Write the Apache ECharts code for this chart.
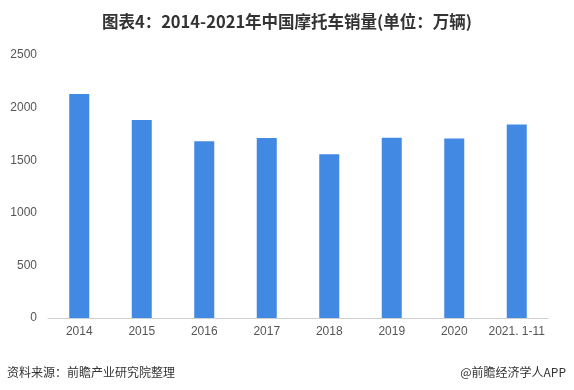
<!DOCTYPE html>
<html><head><meta charset="utf-8">
<script src="https://cdn.jsdelivr.net/npm/echarts@6/dist/echarts.min.js"></script>
<style>html,body{margin:0;padding:0;background:#fff}#c{width:574px;height:390px}</style>
</head><body><div id="c"></div>
<script>
var categories = ['2014','2015','2016','2017','2018','2019','2020','2021. 1-11'];
var sales = [2129.6, 1882.3, 1680.0, 1710.3, 1557.1, 1713.7, 1706.7, 1840.0];
var yTicks = {min: 0, max: 2500, interval: 500};
var titleText = '图表4：2014-2021年中国摩托车销量(单位：万辆)';
var sourceText = '资料来源：前瞻产业研究院整理';
var brandText = '@前瞻经济学人APP';

var chart = echarts.init(document.getElementById('c'));
chart.setOption({
  backgroundColor: '#fff',
  animation: false,
  title: {
    text: titleText, left: 'center', top: 8,
    textStyle: {fontFamily: 'Noto Sans CJK SC', fontWeight: 'bold', fontSize: 16.5, color: '#333'}
  },
  grid: {left: 48, right: 26, top: 55, bottom: 72},
  xAxis: {
    type: 'category', data: categories,
    axisLine: {lineStyle: {color: '#d0d0d0'}},
    axisTick: {show: false},
    axisLabel: {color: '#555', fontSize: 12, fontFamily: 'Liberation Sans', margin: 8, interval: 0}
  },
  yAxis: {
    type: 'value', min: yTicks.min, max: yTicks.max, interval: yTicks.interval,
    axisLine: {show: false}, axisTick: {show: false}, splitLine: {show: false},
    axisLabel: {color: '#555', fontSize: 12, fontFamily: 'Liberation Sans', margin: 11,
      formatter: function (v) { return String(v); }}
  },
  series: [{
    type: 'bar', data: sales, barWidth: 20,
    itemStyle: {color: '#4289e4'}
  }],
  graphic: [
    {type: 'text', left: 7, top: 366, style: {text: sourceText, fontSize: 12, fill: '#333', fontFamily: 'Noto Sans CJK SC'}},
    {type: 'text', right: 8, top: 366, style: {text: brandText, fontSize: 12, fill: '#333', fontFamily: 'Noto Sans CJK SC'}}
  ]
});
</script></body></html>
